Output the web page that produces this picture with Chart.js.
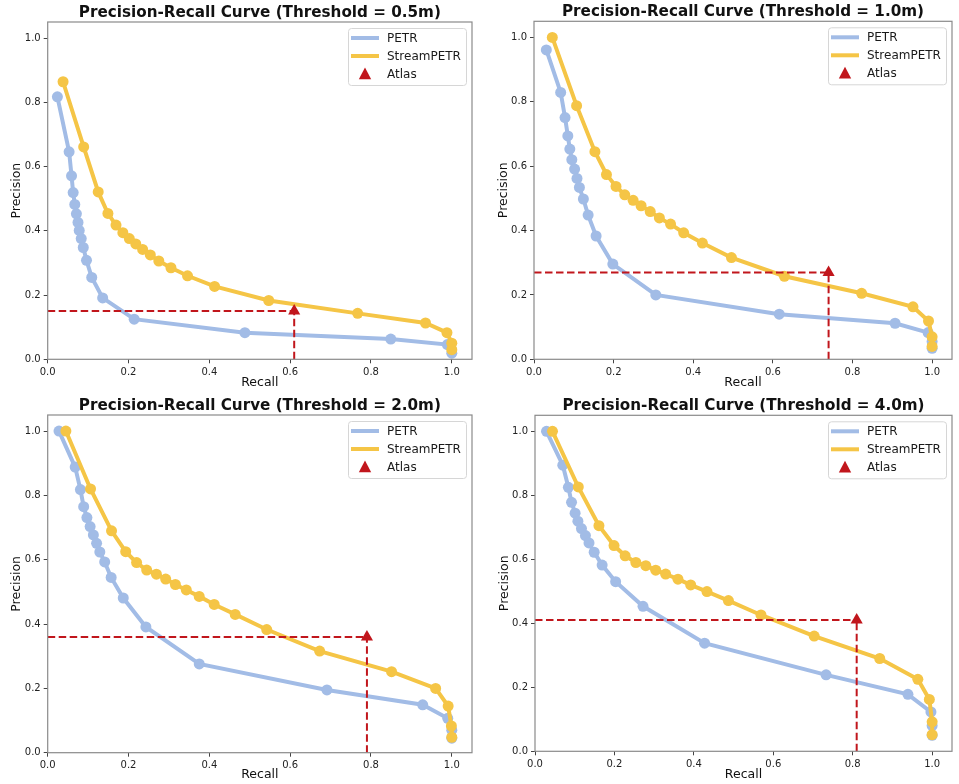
<!DOCTYPE html>
<html>
<head>
<meta charset="utf-8">
<script src="https://cdn.jsdelivr.net/npm/chart.js@4.4.1/dist/chart.umd.min.js"></script>
<style>
  html, body { margin: 0; padding: 0; background: #fff; }
  body { width: 959px; height: 784px; position: relative; overflow: hidden; }
  canvas { position: absolute; }
</style>
</head>
<body>
<canvas id="pr05" width="480" height="392" style="left:0;top:0"></canvas>
<canvas id="pr10" width="479" height="392" style="left:480px;top:0"></canvas>
<canvas id="pr20" width="480" height="392" style="left:0;top:392px"></canvas>
<canvas id="pr40" width="479" height="392" style="left:480px;top:392px"></canvas>
<script>
// series names, thresholds and axis ticks
var seriesNames = ['PETR', 'StreamPETR', 'Atlas'];
var thresholds = ['0.5m', '1.0m', '2.0m', '4.0m'];
var axisTicks = [0.0, 0.2, 0.4, 0.6, 0.8, 1.0];

// Atlas single operating point per threshold
var atlasRecall = [0.61, 0.74, 0.79, 0.81];
var atlasPrecision = [0.15, 0.27, 0.36, 0.41];

// threshold = 0.5m
var recallPetr05 = [0.024, 0.053, 0.059, 0.063, 0.067, 0.071, 0.075, 0.078, 0.083, 0.088, 0.096, 0.109, 0.136, 0.214, 0.488, 0.849, 0.989, 1.0];
var precPetr05 = [0.817, 0.646, 0.571, 0.519, 0.482, 0.453, 0.426, 0.401, 0.376, 0.348, 0.308, 0.255, 0.191, 0.125, 0.083, 0.063, 0.046, 0.019];
var recallStream05 = [0.038, 0.089, 0.125, 0.149, 0.169, 0.186, 0.202, 0.218, 0.235, 0.254, 0.275, 0.305, 0.346, 0.413, 0.547, 0.767, 0.935, 0.988, 1.0, 1.0];
var precStream05 = [0.864, 0.661, 0.521, 0.454, 0.418, 0.394, 0.376, 0.359, 0.342, 0.325, 0.306, 0.285, 0.260, 0.227, 0.183, 0.143, 0.113, 0.083, 0.050, 0.030];

// threshold = 1.0m
var recallPetr10 = [0.031, 0.067, 0.078, 0.085, 0.090, 0.095, 0.102, 0.108, 0.114, 0.124, 0.136, 0.156, 0.198, 0.306, 0.616, 0.907, 0.990, 1.0, 1.0];
var precPetr10 = [0.961, 0.829, 0.751, 0.694, 0.653, 0.620, 0.591, 0.562, 0.534, 0.498, 0.448, 0.383, 0.296, 0.200, 0.140, 0.112, 0.083, 0.055, 0.034];
var recallStream10 = [0.046, 0.107, 0.153, 0.182, 0.206, 0.228, 0.249, 0.269, 0.292, 0.315, 0.343, 0.376, 0.423, 0.496, 0.629, 0.823, 0.952, 0.991, 1.0, 1.0];
var precStream10 = [1.0, 0.788, 0.645, 0.574, 0.537, 0.511, 0.494, 0.477, 0.459, 0.439, 0.420, 0.393, 0.361, 0.316, 0.258, 0.205, 0.163, 0.119, 0.070, 0.040];

// threshold = 2.0m
var recallPetr20 = [0.028, 0.068, 0.081, 0.089, 0.097, 0.105, 0.113, 0.121, 0.129, 0.141, 0.157, 0.187, 0.243, 0.375, 0.691, 0.928, 0.990, 1.0, 1.0];
var precPetr20 = [1.0, 0.888, 0.818, 0.765, 0.731, 0.703, 0.677, 0.651, 0.624, 0.593, 0.545, 0.481, 0.391, 0.276, 0.195, 0.149, 0.107, 0.070, 0.045];
var recallStream20 = [0.045, 0.106, 0.158, 0.193, 0.220, 0.245, 0.269, 0.292, 0.316, 0.343, 0.375, 0.412, 0.464, 0.542, 0.673, 0.851, 0.960, 0.991, 0.999, 1.0];
var precStream20 = [1.0, 0.820, 0.690, 0.625, 0.591, 0.568, 0.555, 0.540, 0.523, 0.506, 0.486, 0.461, 0.430, 0.383, 0.316, 0.252, 0.200, 0.145, 0.083, 0.048];

// threshold = 4.0m
var recallPetr40 = [0.029, 0.070, 0.084, 0.092, 0.101, 0.108, 0.117, 0.127, 0.136, 0.149, 0.169, 0.203, 0.272, 0.427, 0.733, 0.939, 0.997, 1.0, 1.0];
var precPetr40 = [1.0, 0.894, 0.825, 0.778, 0.744, 0.719, 0.696, 0.674, 0.651, 0.622, 0.582, 0.530, 0.453, 0.338, 0.239, 0.178, 0.123, 0.080, 0.050];
var recallStream40 = [0.044, 0.109, 0.161, 0.199, 0.227, 0.254, 0.279, 0.304, 0.329, 0.360, 0.392, 0.433, 0.487, 0.569, 0.703, 0.868, 0.964, 0.993, 1.0, 1.0];
var precStream40 = [1.0, 0.826, 0.705, 0.643, 0.611, 0.590, 0.580, 0.566, 0.554, 0.538, 0.520, 0.499, 0.471, 0.426, 0.360, 0.290, 0.225, 0.162, 0.092, 0.052];

var PETR_COLOR = '#a2bce6';
var STREAM_COLOR = '#f5c546';
var ATLAS_COLOR = '#c1161c';
var FONT = 'DejaVu Sans';

function toPoints(xs, ys) {
    return xs.map(function (x, i) { return { x: x, y: ys[i] }; });
}

// matplotlib-like frame around the axes
var framePlugin = {
    id: 'frame',
    afterDatasetsDraw: function (chart) {
        var a = chart.chartArea, ctx = chart.ctx;
        ctx.save();
        ctx.strokeStyle = '#8a8a8a';
        ctx.lineWidth = 1.2;
        ctx.strokeRect(a.left, a.top, a.right - a.left, a.bottom - a.top);
        ctx.restore();
    }
};

// boxed legend in the upper right corner of the axes
var legendPlugin = {
    id: 'boxLegend',
    afterDraw: function (chart) {
        var a = chart.chartArea, ctx = chart.ctx;
        var items = chart.data.datasets.filter(function (d) { return d.label; });
        var w = 118, h = 57;
        var x0 = a.right - 6 - w, y0 = a.top + 6;
        ctx.save();
        ctx.fillStyle = 'rgba(255,255,255,0.85)';
        ctx.strokeStyle = '#d6d6d6';
        ctx.lineWidth = 1;
        ctx.beginPath();
        ctx.roundRect(x0 + 0.5, y0 + 0.5, w, h, 3);
        ctx.fill();
        ctx.stroke();
        ctx.font = '12px "' + FONT + '"';
        ctx.textBaseline = 'middle';
        items.forEach(function (d, i) {
            var cy = y0 + 10 + i * 18;
            var sx = x0 + 3, ex = x0 + 31;
            if (d.showLine === false) {
                var cx = (sx + ex) / 2, r = 6.5;
                ctx.fillStyle = d.backgroundColor;
                ctx.beginPath();
                ctx.moveTo(cx, cy - r);
                ctx.lineTo(cx + r * 0.95, cy + r * 0.8);
                ctx.lineTo(cx - r * 0.95, cy + r * 0.8);
                ctx.closePath();
                ctx.fill();
            } else {
                ctx.strokeStyle = d.borderColor;
                ctx.lineWidth = 4;
                ctx.beginPath();
                ctx.moveTo(sx, cy);
                ctx.lineTo(ex, cy);
                ctx.stroke();
            }
            ctx.fillStyle = '#1a1a1a';
            ctx.fillText(d.label, x0 + 39, cy + 0.5);
        });
        ctx.restore();
    }
};

function showPR(canvasId, k, petrR, petrP, streamR, streamP, box) {
    var canvas = document.getElementById(canvasId);
    var ax = atlasRecall[k], ap = atlasPrecision[k];

    var datasets = [
        {
            label: seriesNames[0],
            data: toPoints(petrR, petrP),
            borderColor: PETR_COLOR,
            backgroundColor: PETR_COLOR,
            borderWidth: 4,
            pointRadius: 5.5,
            pointBorderWidth: 0,
            tension: 0,
            order: 4
        },
        {
            label: seriesNames[1],
            data: toPoints(streamR, streamP),
            borderColor: STREAM_COLOR,
            backgroundColor: STREAM_COLOR,
            borderWidth: 4,
            pointRadius: 5.5,
            pointBorderWidth: 0,
            tension: 0,
            order: 3
        },
        {
            label: seriesNames[2],
            data: [{ x: ax, y: ap }],
            showLine: false,
            pointStyle: 'triangle',
            pointRadius: 7,
            pointBorderWidth: 0,
            borderColor: ATLAS_COLOR,
            backgroundColor: ATLAS_COLOR,
            order: 0
        },
        {
            // horizontal guide
            label: '',
            data: [{ x: 0, y: ap }, { x: ax, y: ap }],
            borderColor: ATLAS_COLOR,
            borderWidth: 2,
            borderDash: [7.5, 3.5],
            pointRadius: 0,
            order: 1
        },
        {
            // vertical guide
            label: '',
            data: [{ x: ax, y: 0 }, { x: ax, y: ap }],
            borderColor: ATLAS_COLOR,
            borderWidth: 2,
            borderDash: [7.5, 3.5],
            pointRadius: 0,
            order: 1
        }
    ];

    function axisOpts(title, fitFn, titlePad) {
        return {
            type: 'linear',
            min: 0,
            max: 1.05,
            afterBuildTicks: function (s) {
                s.ticks = axisTicks.map(function (v) { return { value: v }; });
            },
            afterFit: fitFn,
            border: { display: false },
            grid: { drawOnChartArea: false, drawTicks: true, tickLength: 4, color: '#444', lineWidth: 1 },
            ticks: {
                padding: 3,
                color: '#222',
                font: { family: FONT, size: 10 },
                callback: function (v) { return Number(v).toFixed(1); }
            },
            title: {
                display: true,
                text: title,
                color: '#111',
                font: { family: FONT, size: 12.5 },
                padding: titlePad
            }
        };
    }

    new Chart(canvas, {
        type: 'line',
        data: { datasets: datasets },
        options: {
            responsive: false,
            animation: false,
            events: [],
            layout: { padding: { left: 0, right: box.right, top: box.top - 21.5, bottom: 0 } },
            scales: {
                x: axisOpts('Recall', function (s) { s.height = box.xh; }, { top: 0, bottom: 1.5 }),
                y: axisOpts('Precision', function (s) { s.width = box.left; }, { top: box.left - 38, bottom: 0 })
            },
            plugins: {
                legend: { display: false },
                tooltip: { enabled: false },
                title: {
                    display: true,
                    fullSize: false,
                    text: 'Precision-Recall Curve (Threshold = ' + thresholds[k] + ')',
                    color: '#111',
                    font: { family: FONT, size: 15.2, weight: 'bold' },
                    padding: { top: 3.26, bottom: 0 }
                }
            }
        },
        plugins: [framePlugin, legendPlugin]
    });
}

showPR('pr05', 0, recallPetr05, precPetr05, recallStream05, precStream05, { left: 47.7, top: 22, right: 8, xh: 32.7 });
showPR('pr10', 1, recallPetr10, precPetr10, recallStream10, precStream10, { left: 54, top: 21.3, right: 0, xh: 32.7 });
showPR('pr20', 2, recallPetr20, precPetr20, recallStream20, precStream20, { left: 47.7, top: 23, right: 8, xh: 31.3 });
showPR('pr40', 3, recallPetr40, precPetr40, recallStream40, precStream40, { left: 55, top: 23.3, right: 1, xh: 32.7 });
</script>
</body>
</html>
